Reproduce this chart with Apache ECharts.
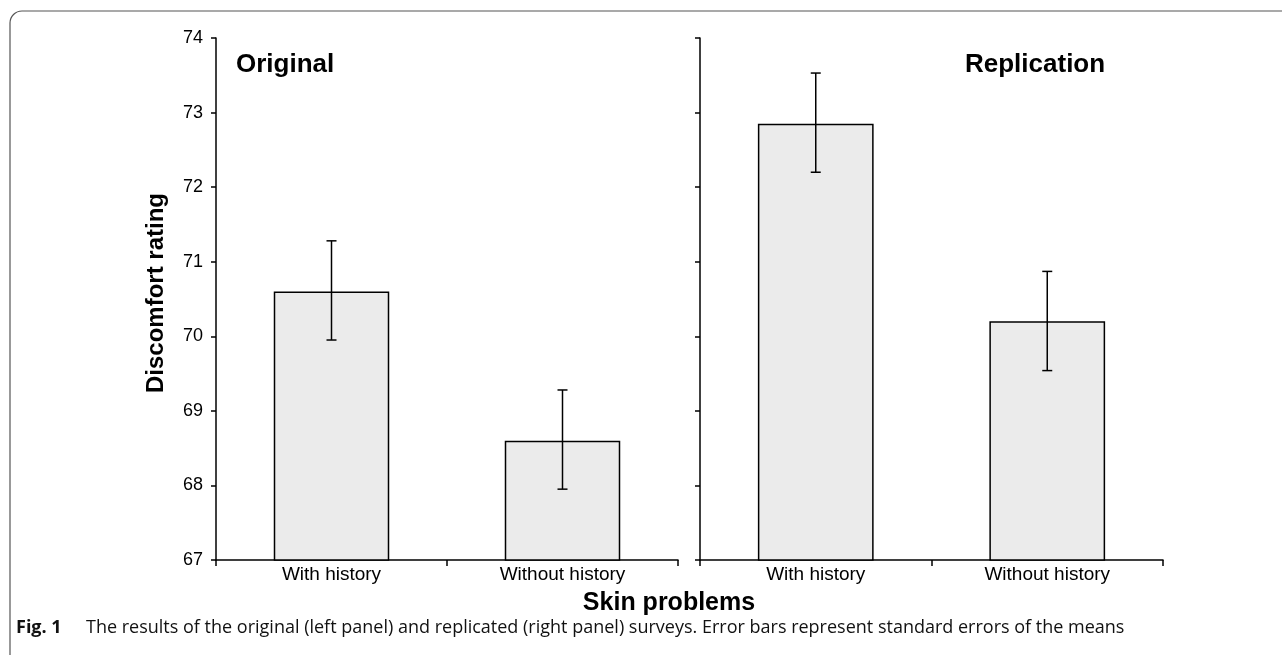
<!DOCTYPE html>
<html>
<head>
<meta charset="utf-8">
<script src="https://cdn.jsdelivr.net/npm/echarts@6/dist/echarts.min.js"></script>
<style>
  html, body { margin: 0; padding: 0; background: #fff; }
  #chart { width: 1282px; height: 655px; }
</style>
</head>
<body>
<div id="chart"></div>
<script>
// categories
const categories = ['With history', 'Without history']
// means (discomfort rating)
const originalMeans = [70.6, 68.6]
const replicationMeans = [72.85, 70.2]
// standard error bounds [low, high]
const originalErr = [[69.95, 71.28], [67.95, 69.28]]
const replicationErr = [[72.2, 73.53], [69.54, 70.87]]
// y axis range
const yMin = 67
const yMax = 74

const font = '"Liberation Sans", Arial, sans-serif'
const capFont = '"Open Sans", "Noto Sans", sans-serif'

const chart = echarts.init(document.getElementById('chart'))

function errorSeries(name, axisIdx, bounds) {
  return {
    name: name,
    type: 'custom',
    xAxisIndex: axisIdx,
    yAxisIndex: axisIdx,
    z: 5,
    data: bounds.map((b, i) => [i, b[0], b[1]]),
    renderItem: function (params, api) {
      const lo = api.coord([api.value(0), api.value(1)])
      const hi = api.coord([api.value(0), api.value(2)])
      const x = lo[0]
      const cap = 5
      const style = { stroke: '#000', lineWidth: 1.5 }
      return {
        type: 'group',
        children: [
          { type: 'line', shape: { x1: x, y1: lo[1], x2: x, y2: hi[1] }, style: style },
          { type: 'line', shape: { x1: x - cap, y1: lo[1], x2: x + cap, y2: lo[1] }, style: style },
          { type: 'line', shape: { x1: x - cap, y1: hi[1], x2: x + cap, y2: hi[1] }, style: style }
        ]
      }
    }
  }
}

function xAxisCfg(gridIdx) {
  return {
    type: 'category',
    gridIndex: gridIdx,
    data: categories,
    boundaryGap: true,
    axisLine: { show: true, lineStyle: { color: '#000', width: 1.5 } },
    axisTick: { show: true, length: 6, alignWithLabel: false, lineStyle: { color: '#000', width: 1.5 } },
    axisLabel: { color: '#000', fontSize: 19, fontFamily: font, margin: 5 },
    splitLine: { show: false }
  }
}

function yAxisCfg(gridIdx, showLabel) {
  return {
    type: 'value',
    gridIndex: gridIdx,
    min: yMin,
    max: yMax,
    interval: 1,
    axisLine: { show: true, lineStyle: { color: '#000', width: 1.5 } },
    axisTick: { show: true, length: 5, lineStyle: { color: '#000', width: 1.5 } },
    axisLabel: { show: showLabel, color: '#000', fontSize: 18, fontFamily: font, margin: 13 },
    splitLine: { show: false }
  }
}

const barStyle = { color: '#ebebeb', borderColor: '#000', borderWidth: 1.5 }

const option = {
  backgroundColor: '#fff',
  animation: false,
  grid: [
    { left: 216, top: 38, width: 462, bottom: 95 },
    { left: 700, top: 38, width: 463, bottom: 95 }
  ],
  xAxis: [xAxisCfg(0), xAxisCfg(1)],
  yAxis: [yAxisCfg(0, true), yAxisCfg(1, false)],
  series: [
    {
      name: 'Original',
      type: 'bar',
      xAxisIndex: 0,
      yAxisIndex: 0,
      data: originalMeans,
      barWidth: '50%',
      itemStyle: barStyle
    },
    {
      name: 'Replication',
      type: 'bar',
      xAxisIndex: 1,
      yAxisIndex: 1,
      data: replicationMeans,
      barWidth: '50%',
      itemStyle: barStyle
    },
    errorSeries('Original SE', 0, originalErr),
    errorSeries('Replication SE', 1, replicationErr)
  ],
  graphic: [
    {
      type: 'rect',
      shape: { x: 10, y: 11, width: 1320, height: 700, r: 12 },
      style: { fill: 'none', stroke: '#555', lineWidth: 1.2 },
      silent: true
    },
    {
      type: 'text', x: 236, y: 65,
      style: { text: 'Original', font: 'bold 26px ' + font, fill: '#000', verticalAlign: 'middle' }
    },
    {
      type: 'text', x: 965, y: 65,
      style: { text: 'Replication', font: 'bold 26px ' + font, fill: '#000', verticalAlign: 'middle' }
    },
    {
      type: 'text', x: 156, y: 293, rotation: Math.PI / 2,
      style: { text: 'Discomfort rating', font: 'bold 24px ' + font, fill: '#000', align: 'center', verticalAlign: 'middle' }
    },
    {
      type: 'text', x: 669, y: 603,
      style: { text: 'Skin problems', font: 'bold 25px ' + font, fill: '#000', align: 'center', verticalAlign: 'middle' }
    },
    {
      type: 'text', x: 16, y: 628,
      style: { text: 'Fig. 1', font: 'bold 18px ' + capFont, fill: '#111', verticalAlign: 'middle' }
    },
    {
      type: 'text', x: 86, y: 628,
      style: {
        text: 'The results of the original (left panel) and replicated (right panel) surveys. Error bars represent standard errors of the means',
        font: '18px ' + capFont, fill: '#111', verticalAlign: 'middle'
      }
    }
  ]
}

chart.setOption(option)
</script>
</body>
</html>
